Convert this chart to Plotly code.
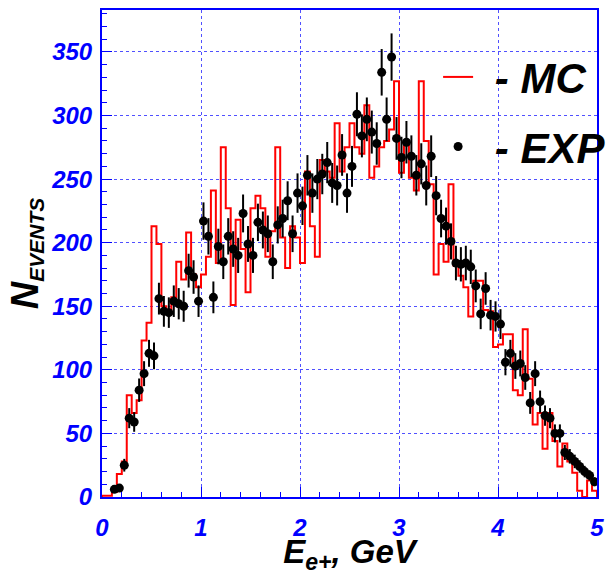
import plotly.graph_objects as go

# ---------------- data ----------------
X_MIN, X_MAX, N_BINS = 0.0, 5.0, 100

MC_COUNTS = [
    1, 1, 4, 18, 28, 80, 66, 76, 123, 137,
    213, 199, 150, 146, 157, 185, 171, 208, 175, 165,
    175, 189, 241, 184, 275, 227, 151, 218, 195, 161,
    227, 237, 227, 189, 209, 275, 204, 180, 213, 204,
    184, 256, 213, 189, 265, 256, 251, 294, 256, 275,
    294, 275, 270, 308, 251, 260, 275, 280, 289, 327,
    255, 280, 251, 241, 327, 280, 246, 175, 199, 185,
    246, 182, 174, 165, 142, 170, 170, 147, 146, 118,
    120, 128, 128, 84, 80, 132, 93, 57, 66, 38,
    66, 44, 24, 42, 28, 19, 5, 0, 13, 5,
]

EXP_COUNTS = [
    None, None, 6, 7, 25, 62, 59, 84, 97, 113,
    111, 156, 146, 145, 154, 152, 150, 178, 173, 154,
    217, 205, 157, 197, 185, 205, 195, 190, 223, 199,
    190, 216, 210, 207, 185, 214, 219, 233, 207, 239,
    229, 253, 239, 250, 254, 263, 247, 245, 269, 239,
    260, 301, 284, 297, 287, 278, 334, 297, 346, 282,
    267, 279, 268, 253, 262, 245, 268, 237, 219, 213,
    201, 184, 183, 184, 181, 166, 144, 164, 143, 142,
    136, 106, 113, 103, 105, 94, 74, 97, 75, 64,
    62, 50, 50, 35, 32, 28, 24, 20, 17, 12,
]

EXP_ERRORS = [
    None, None, 2.4, 2.6, 5.0, 7.9, 7.7, 9.2, 9.8, 10.6,
    10.5, 12.5, 12.1, 12.0, 12.4, 12.3, 12.2, 13.3, 13.2, 12.4,
    14.7, 14.3, 12.5, 14.0, 13.6, 14.3, 14.0, 13.8, 14.9, 14.1,
    13.8, 14.7, 14.5, 14.4, 13.6, 14.6, 14.8, 15.3, 14.4, 15.5,
    15.1, 15.9, 15.5, 15.8, 15.9, 16.2, 15.7, 15.7, 16.4, 15.5,
    16.1, 17.3, 16.9, 17.2, 16.9, 16.7, 18.3, 17.2, 18.6, 16.8,
    16.3, 16.7, 16.4, 15.9, 16.2, 15.7, 16.4, 15.4, 14.8, 14.6,
    14.2, 13.6, 13.5, 13.6, 13.5, 12.9, 12.0, 12.8, 12.0, 11.9,
    11.7, 10.3, 10.6, 10.1, 10.2, 9.7, 8.6, 9.8, 8.7, 8.0,
    7.9, 7.1, 7.1, 5.9, 5.7, 5.3, 4.9, 4.5, 4.1, 3.5,
]

X_TICKS = [0, 1, 2, 3, 4, 5]
Y_TICKS = [0, 50, 100, 150, 200, 250, 300, 350]
Y_MAX = 383

# ---------------- derived ----------------
bw = (X_MAX - X_MIN) / N_BINS
edges = [X_MIN + i * bw for i in range(N_BINS + 1)]
centers = [X_MIN + (i + 0.5) * bw for i in range(N_BINS)]

mc_x = [edges[0]] + edges + [edges[-1]]
mc_y = [0] + MC_COUNTS + [MC_COUNTS[-1], 0]

ex, ey, ee = [], [], []
for c, v, e in zip(centers, EXP_COUNTS, EXP_ERRORS):
    if v is not None:
        ex.append(c)
        ey.append(v)
        ee.append(e)

BLUE = "#0000ff"
GRID = "#5050ff"
FONT = "Liberation Sans"

fig = go.Figure()
fig.add_trace(go.Scatter(
    x=mc_x, y=mc_y, mode="lines", line=dict(color="#ff0000", width=2, shape="hv"),
    name='<span style="font-size:60px">&nbsp;</span>- MC', legendgroup="mc",
))
fig.add_trace(go.Scatter(
    x=ex, y=ey, mode="markers",
    marker=dict(color="black", size=9),
    error_y=dict(type="data", array=ee, visible=True, color="black", thickness=2, width=0),
    name='<span style="font-size:60px">&nbsp;</span>- EXP', legendgroup="exp",
))

axis_common = dict(
    showline=True, linecolor=BLUE, linewidth=2, mirror=True,
    showgrid=True, gridcolor=GRID, gridwidth=1, griddash="dot",
    zeroline=False,
    ticks="inside", ticklen=10, tickwidth=1, tickcolor=BLUE,
    tickfont=dict(family=FONT, size=24, color=BLUE, weight="bold", style="italic"),
)

fig.update_layout(
    width=611, height=575,
    margin=dict(l=102, r=14, t=10, b=78, autoexpand=False),
    plot_bgcolor="white", paper_bgcolor="white",
    showlegend=True,
    legend=dict(
        x=0.679, y=0.932, xanchor="left", yanchor="top",
        bgcolor="rgba(0,0,0,0)", borderwidth=0,
        font=dict(family=FONT, size=42, color="black", weight="bold", style="italic"),
        itemwidth=30, traceorder="grouped", tracegroupgap=12,
    ),
    xaxis=dict(
        range=[X_MIN, X_MAX], tickvals=X_TICKS,
        minor=dict(dtick=0.2, ticks="inside", ticklen=5, tickcolor=BLUE, showgrid=False),
        ticklabelstandoff=8,
        title=dict(text="E<sub>e+</sub>, GeV", standoff=14,
                   font=dict(family=FONT, size=33, color="black", weight="bold", style="italic")),
        **axis_common,
    ),
    yaxis=dict(
        range=[0, Y_MAX], tickvals=Y_TICKS,
        minor=dict(dtick=10, ticks="inside", ticklen=5, tickcolor=BLUE, showgrid=False),
        ticklabelstandoff=3,
        title=dict(text='<span style="font-size:38px">N</span><sub>EVENTS</sub>', standoff=4,
                   font=dict(family=FONT, size=30, color="black", weight="bold", style="italic")),
        **axis_common,
    ),
)

fig.write_html("out.html")
